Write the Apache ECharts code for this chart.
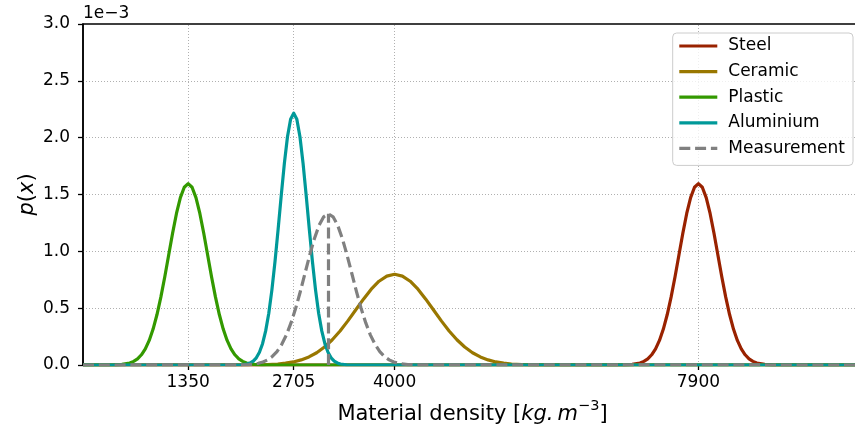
<!DOCTYPE html>
<html>
<head>
<meta charset="utf-8">
<title>Material density</title>
<script src="https://cdn.jsdelivr.net/npm/echarts@6/dist/echarts.min.js"></script>
<style>
  html, body { margin: 0; padding: 0; background: #fff; }
  #chart { width: 855px; height: 432px; }
</style>
</head>
<body>
<div id="chart"></div>
<script>
// Probability densities p(x), in units of 1e-3, sampled along density x [kg/m^3]
const steel = [[0,0],[6950,0.001],[7050,0.005],[7150,0.018],[7200,0.032],[7250,0.054],[7300,0.090],[7350,0.142],[7400,0.216],[7450,0.316],[7500,0.444],[7550,0.599],[7600,0.777],[7650,0.968],[7700,1.159],[7750,1.333],[7800,1.473],[7850,1.564],[7900,1.596],[7950,1.564],[8000,1.473],[8050,1.333],[8100,1.159],[8150,0.968],[8200,0.777],[8250,0.599],[8300,0.444],[8350,0.316],[8400,0.216],[8450,0.142],[8500,0.090],[8550,0.054],[8600,0.032],[8650,0.018],[8750,0.005],[8850,0.001],[10000,0]];
const ceramic = [[0,0],[2100,0.001],[2300,0.002],[2500,0.009],[2600,0.016],[2700,0.027],[2800,0.045],[2900,0.071],[3000,0.108],[3100,0.158],[3200,0.222],[3300,0.299],[3400,0.388],[3500,0.484],[3600,0.579],[3700,0.667],[3800,0.737],[3900,0.782],[4000,0.798],[4100,0.782],[4200,0.737],[4300,0.667],[4400,0.579],[4500,0.484],[4600,0.388],[4700,0.299],[4800,0.222],[4900,0.158],[5000,0.108],[5100,0.071],[5200,0.045],[5300,0.027],[5400,0.016],[5500,0.009],[5700,0.002],[5900,0.001],[10000,0]];
const plastic = [[0,0],[400,0.001],[500,0.005],[600,0.018],[650,0.032],[700,0.054],[750,0.090],[800,0.142],[850,0.216],[900,0.316],[950,0.444],[1000,0.599],[1050,0.777],[1100,0.968],[1150,1.159],[1200,1.333],[1250,1.473],[1300,1.564],[1350,1.596],[1400,1.564],[1450,1.473],[1500,1.333],[1550,1.159],[1600,0.968],[1650,0.777],[1700,0.599],[1750,0.444],[1800,0.316],[1850,0.216],[1900,0.142],[1950,0.090],[2000,0.054],[2050,0.032],[2100,0.018],[2200,0.005],[2300,0.001],[10000,0]];
const aluminium = [[0,0],[2025,0.002],[2105,0.009],[2145,0.018],[2185,0.034],[2225,0.063],[2265,0.112],[2305,0.187],[2345,0.300],[2385,0.456],[2425,0.661],[2465,0.911],[2505,1.195],[2545,1.493],[2585,1.774],[2625,2.008],[2665,2.162],[2705,2.216],[2745,2.162],[2785,2.008],[2825,1.774],[2865,1.493],[2905,1.195],[2945,0.911],[2985,0.661],[3025,0.456],[3065,0.300],[3105,0.187],[3145,0.112],[3185,0.063],[3225,0.034],[3265,0.018],[3305,0.009],[3385,0.002],[10000,0]];
const measurement = [[0,0],[2010,0.001],[2130,0.004],[2250,0.015],[2310,0.026],[2370,0.045],[2430,0.075],[2490,0.118],[2550,0.180],[2610,0.263],[2670,0.370],[2730,0.499],[2790,0.647],[2850,0.807],[2910,0.966],[2970,1.111],[3030,1.228],[3090,1.304],[3150,1.330],[3210,1.304],[3270,1.228],[3330,1.111],[3390,0.966],[3450,0.807],[3510,0.647],[3570,0.499],[3630,0.370],[3690,0.263],[3750,0.180],[3810,0.118],[3870,0.075],[3930,0.045],[3990,0.026],[4050,0.015],[4170,0.004],[4290,0.001],[10000,0]];

// Measured density and the density value at that point
const measuredDensity = 3150;
const measuredPeak = 1.330;

// Axis ticks
const xTicks = [1350, 2705, 4000, 7900];
const yTicks = [0, 0.5, 1.0, 1.5, 2.0, 2.5, 3.0];

const seriesNames = ['Steel', 'Ceramic', 'Plastic', 'Aluminium', 'Measurement'];
const colors = ['#992200', '#997700', '#339900', '#009999', '#808080'];

const FONT = 'DejaVu Sans';
const LW = 3.2;
const DASH = [11, 4.8];
const chart = echarts.init(document.getElementById('chart'), null, { renderer: 'canvas' });

function curve(name, data, color, dashed) {
  return {
    name: name,
    type: 'line',
    data: data,
    symbol: 'none',
    showSymbol: false,
    smooth: false,
    animation: false,
    lineStyle: { color: color, width: LW, type: dashed ? DASH : 'solid', join: 'round' },
    itemStyle: { color: color },
    z: 3
  };
}

const series = [
  curve(seriesNames[0], steel, colors[0]),
  curve(seriesNames[1], ceramic, colors[1]),
  curve(seriesNames[2], plastic, colors[2]),
  curve(seriesNames[3], aluminium, colors[3]),
  curve(seriesNames[4], measurement, colors[4], true)
];

// vertical marker at the measured density
series[4].markLine = {
  silent: true,
  symbol: 'none',
  animation: false,
  label: { show: false },
  lineStyle: { color: colors[4], width: LW, type: DASH },
  data: [[{ coord: [measuredDensity, 0] }, { coord: [measuredDensity, measuredPeak] }]]
};

// vertical grid lines at the x ticks, drawn under the curves
series.push({
  type: 'line',
  data: [],
  silent: true,
  z: 1,
  markLine: {
    silent: true,
    symbol: 'none',
    animation: false,
    z: 1,
    label: { show: false },
    lineStyle: { color: '#b0b0b0', width: 1, type: [1, 2] },
    data: xTicks.map(v => ({ xAxis: v }))
  }
});

chart.setOption({
  backgroundColor: '#fff',
  animation: false,
  textStyle: { fontFamily: FONT, color: '#000' },
  grid: {
    left: 83, top: 24, bottom: 67, width: 779,
    outerBoundsMode: 'none',
    containLabel: false,
    show: true, borderColor: '#000', borderWidth: 1.5, backgroundColor: 'transparent'
  },
  legend: {
    data: seriesNames,
    orient: 'vertical',
    right: 2,
    top: 33,
    itemWidth: 38,
    itemHeight: 14,
    itemGap: 7.6,
    padding: [4, 8, 8, 5],
    borderColor: '#cccccc',
    borderWidth: 1,
    borderRadius: 4,
    backgroundColor: 'rgba(255,255,255,0.8)',
    itemStyle: { opacity: 0 },
    lineStyle: { width: LW },
    textStyle: { fontFamily: FONT, fontSize: 17, color: '#000', lineHeight: 18, padding: [0, 0, 0, 6] }
  },
  xAxis: {
    type: 'value',
    min: 0,
    max: 10000,
    name: '{n|Material density [}{i|kg.\u2009m}{s|\u22123}{n|]}',
    nameLocation: 'middle',
    nameGap: 34,
    nameMoveOverlap: false,
    nameTextStyle: {
      rich: {
        n: { fontFamily: FONT, fontSize: 21, color: '#000', lineHeight: 26, verticalAlign: 'bottom' },
        i: { fontFamily: FONT, fontStyle: 'italic', fontSize: 21, color: '#000', lineHeight: 26, verticalAlign: 'bottom' },
        s: { fontFamily: FONT, fontSize: 14.5, color: '#000', lineHeight: 26, verticalAlign: 'top' }
      }
    },
    axisLine: { show: true, lineStyle: { color: '#000', width: 1.5 } },
    axisTick: { show: true, customValues: xTicks, length: 5, lineStyle: { color: '#000', width: 1.3 } },
    axisLabel: {
      customValues: xTicks, margin: 9, fontFamily: FONT, fontSize: 17, color: '#000',
      formatter: v => String(v)
    },
    splitLine: { show: false }
  },
  yAxis: {
    type: 'value',
    min: 0,
    max: 3.0,
    interval: 0.5,
    name: '{i|p}{n|(}{i|x}{n|)}',
    nameLocation: 'middle',
    nameRotate: 90,
    nameGap: 45,
    nameMoveOverlap: false,
    nameTextStyle: {
      rich: {
        n: { fontFamily: FONT, fontSize: 21, color: '#000' },
        i: { fontFamily: FONT, fontStyle: 'italic', fontSize: 21, color: '#000' }
      }
    },
    axisLine: { show: true, lineStyle: { color: '#000', width: 1.5 } },
    axisTick: { show: true, customValues: yTicks, length: 5, lineStyle: { color: '#000', width: 1.3 } },
    axisLabel: {
      customValues: yTicks, margin: 13, fontFamily: FONT, fontSize: 17, color: '#000',
      formatter: v => v.toFixed(1)
    },
    splitLine: {
      show: true, showMinLine: false, showMaxLine: false,
      lineStyle: { color: '#b0b0b0', width: 1, type: [1, 2] }
    }
  },
  graphic: [{
    type: 'text',
    left: 83,
    top: 5,
    style: { text: '1e\u22123', font: '17px "DejaVu Sans"', fill: '#000' }
  }],
  series: series
});
</script>
</body>
</html>
